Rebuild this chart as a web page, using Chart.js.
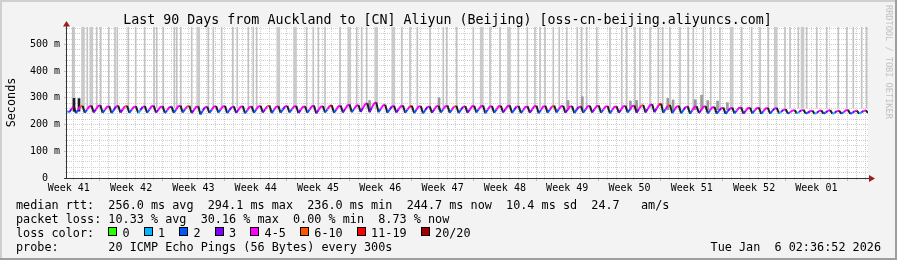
<!DOCTYPE html>
<html>
<head>
<meta charset="utf-8">
<script src="https://cdn.jsdelivr.net/npm/chart.js@4.4.1/dist/chart.umd.min.js"></script>
<style>
  html, body { margin: 0; padding: 0; background: #f3f3f3; }
  canvas { display: block; }
</style>
</head>
<body>
<canvas id="smokeChart" width="897" height="260"></canvas>
<script>
const titleText = 'Last 90 Days from Auckland to [CN] Aliyun (Beijing) [oss-cn-beijing.aliyuncs.com]';
const weekLabels = ['Week 41', 'Week 42', 'Week 43', 'Week 44', 'Week 45', 'Week 46', 'Week 47',
                    'Week 48', 'Week 49', 'Week 50', 'Week 51', 'Week 52', 'Week 01'];
const spanDays = 90;          // x axis runs 0..90 days
const firstWeekStart = 3.7;   // day offset of the first Monday (start of week 42)
const yMax = 565;             // ms
const yMajorTicks = [0, 100, 200, 300, 400, 500];
const yTickLabels = ['0  ', '100 m', '200 m', '300 m', '400 m', '500 m'];

// median rtt (ms), one sample every 6 hours, 4 per day
const sampleStep = 0.25;
const medianRtt = [
  250, 246, 258, 268,  243, 255, 268, 270,  244, 256, 267, 271,  245, 257, 269, 272,
  244, 255, 266, 269,  243, 254, 267, 271,  245, 256, 268, 270,  244, 255, 265, 268,
  243, 254, 266, 269,  244, 256, 268, 270,  245, 255, 266, 268,  243, 253, 265, 267,
  244, 256, 268, 271,  245, 257, 268, 270,  243, 254, 266, 268,  238, 252, 265, 267,
  244, 255, 267, 269,  245, 256, 267, 270,  243, 254, 265, 268,  244, 255, 266, 269,
  242, 253, 265, 268,  244, 256, 267, 270,  245, 257, 268, 271,  243, 255, 266, 269,
  244, 256, 268, 270,  245, 257, 267, 270,  243, 255, 266, 268,  244, 256, 268, 271,
  242, 254, 266, 269,  245, 257, 269, 272,  244, 256, 268, 271,  245, 258, 271, 275,
  246, 258, 270, 273,  247, 262, 276, 280,  246, 264, 279, 283,  246, 258, 271, 274,
  244, 256, 268, 270,  245, 257, 268, 271,  244, 256, 267, 270,  243, 255, 267, 269,
  242, 254, 266, 268,  244, 256, 268, 270,  245, 257, 268, 271,  244, 256, 267, 270,
  243, 255, 266, 269,  244, 256, 268, 270,  245, 257, 268, 271,  242, 255, 267, 269,
  244, 256, 268, 270,  245, 257, 269, 271,  244, 255, 267, 269,  243, 254, 266, 268,
  244, 256, 268, 270,  242, 255, 267, 270,  244, 256, 268, 271,  245, 257, 268, 270,
  244, 256, 267, 269,  243, 255, 266, 268,  244, 256, 268, 270,  245, 257, 268, 271,
  244, 256, 267, 269,  242, 254, 266, 268,  244, 256, 268, 270,  245, 257, 269, 271,
  244, 257, 270, 273,  245, 259, 272, 276,  246, 260, 274, 278,  244, 257, 270, 273,
  243, 255, 267, 270,  242, 254, 265, 268,  241, 253, 266, 268,  243, 254, 266, 269,
  242, 253, 264, 266,  241, 251, 261, 263,  240, 250, 260, 263,  242, 252, 262, 264,
  241, 251, 261, 263,  242, 252, 261, 263,  240, 250, 260, 262,  241, 251, 260, 262,
  242, 248, 255, 257,  241, 246, 252, 254,  242, 247, 253, 255,  241, 245, 250, 252,
  240, 244, 251, 253,  241, 245, 252, 254,  240, 244, 250, 252,  241, 246, 253, 255,
  240, 244, 250, 252,  241, 245, 251, 253,
  244
];

// lost pings (of 20) for each median sample
const lossCount = [
  1, 1, 3, 4,  0, 2, 4, 6,  1, 2, 4, 4,  1, 3, 4, 4,  2, 2, 4, 4,  1, 2, 3, 4,  1, 3, 4, 6,
  1, 2, 4, 4,  1, 1, 3, 4,  1, 2, 4, 4,  2, 3, 4, 4,  1, 2, 4, 3,  1, 2, 4, 4,  1, 2, 4, 6,
  1, 3, 4, 4,  0, 2, 3, 4,  1, 2, 4, 4,  1, 2, 4, 4,  2, 2, 3, 4,  1, 3, 4, 4,  0, 2, 4, 4,
  1, 2, 4, 4,  1, 3, 4, 6,  1, 2, 4, 4,  2, 2, 3, 4,  1, 2, 4, 4,  1, 3, 4, 4,  1, 2, 4, 4,
  0, 3, 4, 4,  1, 2, 4, 11, 1, 2, 4, 4,  1, 3, 4, 4,  2, 2, 4, 4,  1, 3, 4, 4,  0, 3, 4, 4,
  1, 2, 4, 4,  1, 2, 3, 4,  2, 3, 4, 4,  1, 2, 4, 11, 1, 2, 4, 4,  0, 2, 3, 4,  1, 3, 4, 4,
  1, 2, 4, 4,  2, 2, 4, 6,  1, 2, 3, 4,  1, 3, 4, 4,  1, 2, 4, 4,  0, 2, 4, 4,  1, 2, 4, 4,
  1, 3, 4, 4,  2, 2, 3, 4,  1, 2, 4, 4,  1, 3, 4, 4,  0, 2, 4, 4,  1, 2, 4, 6,  1, 2, 4, 4,
  2, 3, 4, 4,  1, 2, 3, 4,  1, 2, 4, 4,  1, 3, 4, 4,  1, 2, 4, 4,  0, 2, 4, 4,  1, 3, 4, 4,
  1, 2, 4, 4,  2, 3, 4, 6,  1, 3, 4, 4,  1, 3, 4, 11, 1, 2, 4, 6,  1, 2, 4, 4,  2, 2, 3, 4,
  0, 2, 4, 4,  1, 3, 4, 4,  1, 2, 4, 4,  1, 2, 3, 4,  0, 2, 3, 4,  1, 2, 4, 4,  1, 3, 4, 4,
  2, 2, 4, 4,  0, 2, 4, 4,  1, 2, 3, 4,  1, 1, 3, 4,  1, 2, 4, 4,  1, 1, 3, 4,  1, 2, 3, 4,
  2, 1, 3, 4,  0, 2, 3, 4,  1, 1, 3, 4,  1, 2, 4, 4,  0, 2, 3, 4,  1, 1, 3, 4,
  1
];

// smoke: days where the slowest pings go off the top of the graph
const smokeBase = 262;
const smokeThinDays = [
  0.64, 0.79, 2.28, 3.34, 3.79, 4.69, 5.39, 5.65, 6.89, 7.72, 8.73, 9.78, 10.08, 10.82,
  12.06, 12.33, 12.78, 14.01, 15.88, 16.44, 17.38, 18.62, 19.13, 20.37, 20.93, 21.31,
  26.93, 27.67, 28.24, 28.99, 30.67, 32.55, 33.11, 33.67, 37.61, 38.54, 39.36, 40.79,
  42.28, 42.66, 43.79, 45.65, 47.53, 48.65, 50.71, 51.72, 52.58, 53.15, 53.71, 54.64,
  55.31, 56.15, 57.33, 57.83, 58.39, 59.52, 61.01, 62.33, 62.89, 63.82, 64.38, 65.51,
  66.44, 66.93, 67.75, 68.88, 69.81, 70.37, 71.49, 72.33, 73.37, 75.81, 76.93, 77.87,
  78.80, 80.67, 81.24, 82.17, 83.11, 84.24, 85.36, 86.66, 87.61, 88.35, 89.29, 89.85
];
const smokeWideDays = [1.80, 2.73, 14.75, 23.74, 25.62, 31.71, 34.74, 36.66, 46.60, 49.66, 74.68, 79.64, 82.64];

// denser smoke just above the median line
const darkSmokeDays = [34.0, 41.8, 56.3, 57.9, 63.3, 64.0, 67.5, 68.1, 70.6, 71.3, 72.0, 73.1, 74.2];
const darkSmokeTop  = [290,  300,  290,  304,  288,  290,  298,  292,  293,  310,  290,  288,  282];
const blackSmokeDays = [0.79, 1.35];
const blackSmokeTop  = [298, 297];

const lossBins = ['0', '1', '2', '3', '4-5', '6-10', '11-19', '20/20'];
const lossPalette = ['#26ff00', '#00b8ff', '#0059ff', '#7e00ff', '#ff00ff', '#ff5500', '#ff0000', '#a10000'];

const legendRows = [
  'median rtt:  256.0 ms avg  294.1 ms max  236.0 ms min  244.7 ms now  10.4 ms sd  24.7   am/s',
  'packet loss: 10.33 % avg  30.16 % max  0.00 % min  8.73 % now',
  'loss color:',
  'probe:       20 ICMP Echo Pings (56 Bytes) every 300s'
];
const stampText = 'Tue Jan  6 02:36:52 2026';
const watermark = 'RRDTOOL / TOBI OETIKER';

const MONO = '"DejaVu Sans Mono", monospace';
const GRID_MINOR = '#cfcfcf';
const GRID_MAJOR = '#f19c9c';

function lossColor(n) {
  if (n >= 20) return lossPalette[7];
  if (n >= 11) return lossPalette[6];
  if (n >= 6) return lossPalette[5];
  if (n >= 4) return lossPalette[4];
  return lossPalette[n];
}

function floatBars(days, lo, tops) {
  return days.map((d, i) => ({ x: d, y: [lo, Array.isArray(tops) ? tops[i] : tops] }));
}

const medianPoints = medianRtt.map((v, i) => ({ x: i * sampleStep, y: v }));

const weekStarts = [];
for (let d = firstWeekStart; d < spanDays; d += 7) weekStarts.push(d);
const dayLines = [];
for (let d = firstWeekStart - 3; d < spanDays; d += 1) dayLines.push(d);
const yMinorTicks = [];
for (let v = 20; v < yMax; v += 20) yMinorTicks.push(v);

// background, frame, axes and the rrdtool style text
const rrdFrame = {
  id: 'rrdFrame',
  beforeDraw(chart) {
    const { ctx, width, height, chartArea: a } = chart;
    ctx.save();
    ctx.fillStyle = '#f3f3f3';
    ctx.fillRect(0, 0, width, height);
    ctx.fillStyle = '#cfcfcf';
    ctx.fillRect(0, 0, width, 2);
    ctx.fillRect(0, 0, 2, height);
    ctx.fillStyle = '#9e9e9e';
    ctx.fillRect(0, height - 2, width, 2);
    ctx.fillRect(width - 2, 0, 2, height);
    ctx.fillStyle = '#ffffff';
    ctx.fillRect(a.left, a.top, a.right - a.left, a.bottom - a.top);
    ctx.restore();
  },
  afterDatasetsDraw(chart) {
    const { ctx, chartArea: a } = chart;
    ctx.save();
    ctx.strokeStyle = '#333';
    ctx.lineWidth = 1;
    ctx.beginPath();
    ctx.moveTo(a.left - 0.5, a.bottom + 0.5);
    ctx.lineTo(a.left - 0.5, a.top - 3);
    ctx.moveTo(a.left - 3, a.bottom + 0.5);
    ctx.lineTo(a.right + 2, a.bottom + 0.5);
    ctx.stroke();
    ctx.fillStyle = '#9c1c1c';
    ctx.beginPath();
    ctx.moveTo(a.left - 0.5, a.top - 6);
    ctx.lineTo(a.left - 4, a.top - 0.5);
    ctx.lineTo(a.left + 3, a.top - 0.5);
    ctx.closePath();
    ctx.fill();
    ctx.beginPath();
    ctx.moveTo(a.right + 7, a.bottom + 0.5);
    ctx.lineTo(a.right + 1, a.bottom - 3);
    ctx.lineTo(a.right + 1, a.bottom + 4);
    ctx.closePath();
    ctx.fill();
    ctx.restore();
  },
  afterDraw(chart) {
    const { ctx } = chart;
    ctx.save();
    ctx.fillStyle = '#000';
    ctx.textBaseline = 'alphabetic';

    ctx.font = '13.3px ' + MONO;
    ctx.textAlign = 'center';
    ctx.fillText(titleText, 447.5, 24);

    ctx.font = '11.8px ' + MONO;
    ctx.textAlign = 'left';
    const cw = ctx.measureText('0').width;
    const x0 = 16;
    legendRows.forEach((row, i) => ctx.fillText(row, x0, 208.8 + i * 14));

    // loss colour swatches
    let col = 13;
    lossBins.forEach((label, i) => {
      const bx = Math.round(x0 + col * cw);
      ctx.fillStyle = lossPalette[i];
      ctx.fillRect(bx, 227.5, 8, 8);
      ctx.strokeStyle = '#000';
      ctx.lineWidth = 1;
      ctx.strokeRect(bx + 0.5, 227.5, 8, 8);
      ctx.fillStyle = '#000';
      ctx.fillText(label, x0 + (col + 2) * cw, 236.8);
      col += 2 + label.length + 2;
    });

    ctx.textAlign = 'right';
    ctx.fillText(stampText, 881, 250.8);

    ctx.fillStyle = '#c2c2c2';
    ctx.font = '8.6px ' + MONO;
    ctx.textAlign = 'left';
    ctx.translate(886, 5);
    ctx.rotate(Math.PI / 2);
    ctx.fillText(watermark, 0, 0);
    ctx.restore();
  }
};

Chart.defaults.font.family = MONO;
Chart.defaults.color = '#000';

const ctx = document.getElementById('smokeChart').getContext('2d');
const smokeChart = new Chart(ctx, {
  type: 'line',
  data: {
    datasets: [
      {
        label: 'median rtt',
        data: medianPoints,
        borderColor: lossPalette[1],
        borderWidth: 2,
        pointRadius: 0,
        tension: 0,
        segment: {
          borderColor: c => (c.p1.parsed.y < c.p0.parsed.y - 6)
            ? '#1e1e1e'
            : lossColor(lossCount[c.p1DataIndex])
        },
        order: 0
      },
      {
        type: 'bar',
        label: 'smoke wide',
        data: floatBars(smokeWideDays, smokeBase, yMax),
        backgroundColor: '#cacaca',
        barThickness: 3,
        grouped: false,
        order: 4
      },
      {
        type: 'bar',
        label: 'smoke',
        data: floatBars(smokeThinDays, smokeBase, yMax),
        backgroundColor: '#c2c2c2',
        barThickness: 1,
        grouped: false,
        order: 3
      },
      {
        type: 'bar',
        label: 'smoke dense',
        data: floatBars(darkSmokeDays, 255, darkSmokeTop),
        backgroundColor: '#9a9a9a',
        barThickness: 2,
        grouped: false,
        order: 2
      },
      {
        type: 'bar',
        label: 'smoke black',
        data: floatBars(blackSmokeDays, 250, blackSmokeTop),
        backgroundColor: '#1e1e1e',
        barThickness: 2,
        grouped: false,
        order: 1
      }
    ]
  },
  options: {
    responsive: false,
    animation: false,
    events: [],
    layout: { padding: { left: 0, right: 29, top: 27, bottom: 62 } },
    scales: {
      x: {
        type: 'linear', position: 'bottom', weight: 1, offset: false,
        min: 0, max: spanDays,
        afterBuildTicks: s => { s.ticks = weekLabels.map((_, i) => ({ value: firstWeekStart - 3.5 + 7 * i })); },
        ticks: { autoSkip: false, maxRotation: 0, padding: 4, font: { size: 10 },
                 callback: (v, i) => weekLabels[i] },
        grid: { display: false, drawTicks: false, offset: false },
        border: { display: false },
        afterFit: s => { s.height = 20; }
      },
      xWeek: {
        type: 'linear', position: 'bottom', weight: 0, offset: false, z: -1,
        min: 0, max: spanDays,
        afterBuildTicks: s => { s.ticks = weekStarts.map(v => ({ value: v })); },
        ticks: { display: false },
        grid: { color: GRID_MAJOR, tickColor: GRID_MAJOR, tickLength: 3, tickBorderDash: [], offset: false },
        border: { display: false, dash: [1, 1] },
        afterFit: s => { s.height = 0; }
      },
      xDay: {
        type: 'linear', position: 'bottom', weight: 0, offset: false, z: -2,
        min: 0, max: spanDays,
        afterBuildTicks: s => { s.ticks = dayLines.map(v => ({ value: v })); },
        ticks: { display: false },
        grid: { color: GRID_MINOR, tickColor: GRID_MINOR, tickLength: 2, tickBorderDash: [], offset: false },
        border: { display: false, dash: [1, 1] },
        afterFit: s => { s.height = 0; }
      },
      y: {
        type: 'linear', position: 'left', weight: 1, z: -1,
        min: 0, max: yMax,
        afterBuildTicks: s => { s.ticks = yMajorTicks.map(v => ({ value: v })); },
        ticks: { padding: 4, font: { size: 10 }, callback: (v, i) => yTickLabels[i] },
        grid: { color: GRID_MAJOR, tickColor: GRID_MAJOR, tickLength: 3, tickBorderDash: [] },
        border: { display: false, dash: [1, 1] },
        title: { display: true, text: 'Seconds', font: { size: 11.8 }, padding: { top: 4.6, bottom: 0 } },
        afterFit: s => { s.width = 67; }
      },
      yMinor: {
        type: 'linear', position: 'left', weight: 0, z: -2,
        min: 0, max: yMax,
        afterBuildTicks: s => { s.ticks = yMinorTicks.map(v => ({ value: v })); },
        ticks: { display: false },
        grid: { color: GRID_MINOR, tickColor: GRID_MINOR, tickLength: 2, tickBorderDash: [] },
        border: { display: false, dash: [1, 1] },
        afterFit: s => { s.width = 0; }
      }
    },
    plugins: {
      legend: { display: false },
      tooltip: { enabled: false }
    }
  },
  plugins: [rrdFrame]
});
</script>
</body>
</html>
